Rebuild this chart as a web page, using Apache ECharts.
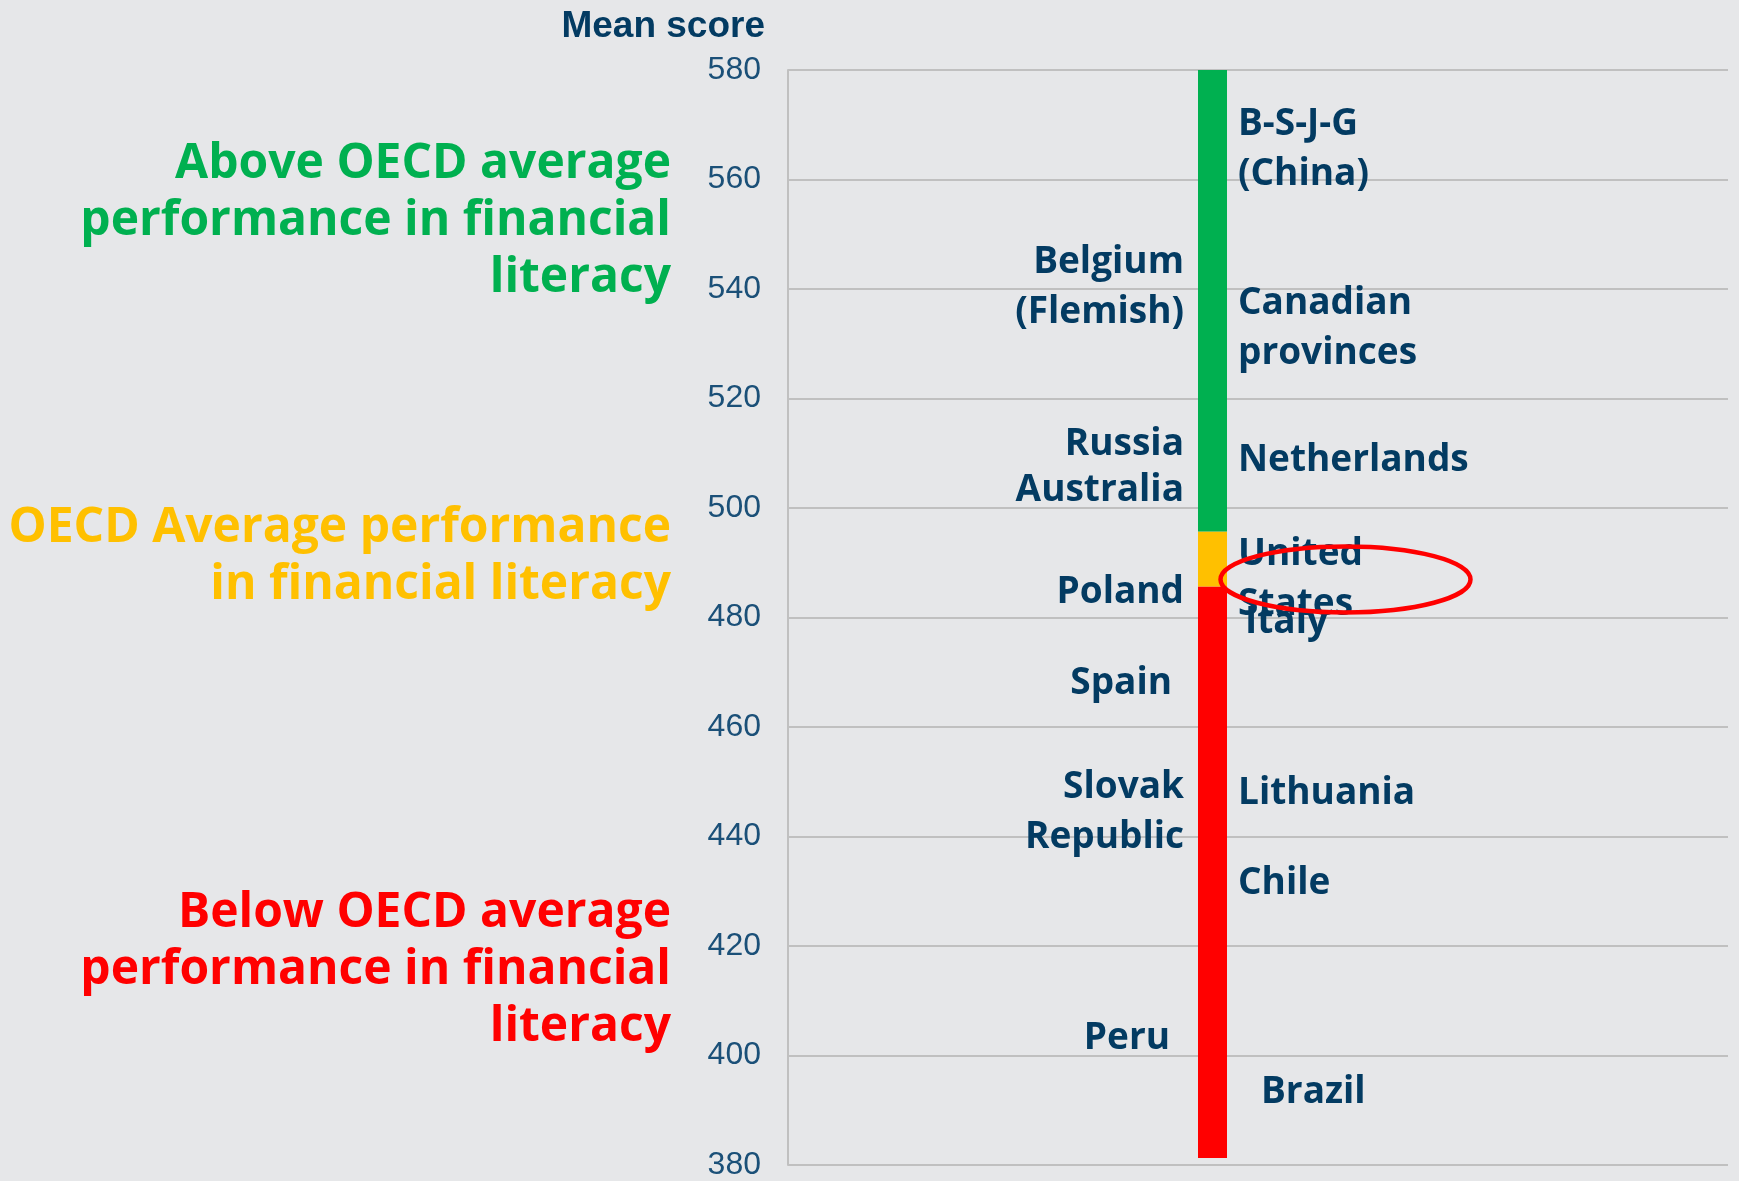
<!DOCTYPE html>
<html>
<head>
<meta charset="utf-8">
<script src="https://cdn.jsdelivr.net/npm/echarts@6/dist/echarts.min.js"></script>
<style>
  html, body { margin: 0; padding: 0; background: #e6e7e9; }
  #main { width: 1739px; height: 1181px; }
</style>
</head>
<body>
<div id="main"></div>
<script>
// score scale
const yMin = 380;
const yMax = 580;
const yStep = 20;

// colour bands of the bar (score edges)
const bandFloor = 382;
const averageLow = 486;
const averageHigh = 496;
const bandTop = 580;

// countries and the score their label sits at
const countries = ['B-S-J-G\n(China)', 'Belgium\n(Flemish)', 'Canadian\nprovinces', 'Russia', 'Australia',
  'Netherlands', 'United\nStates', 'Poland', 'Italy', 'Spain', 'Slovak\nRepublic', 'Lithuania',
  'Chile', 'Peru', 'Brazil'];
const scores = [565.6, 540.5, 532.9, 511.9, 503.4, 509, 487.3, 485, 479.5, 468.4, 444.9, 448.4, 432, 403.7, 394];
// which side of the bar, and gap from bar centre (px)
const sides = ['right', 'left', 'right', 'left', 'left', 'right', 'right', 'left', 'right', 'left', 'left', 'right', 'right', 'left', 'right'];
const gaps = [25, 28, 25, 28, 28, 25, 25, 28, 32, 40, 28, 25, 25, 42, 48];

const navy = '#033b62';
const green = '#00b050';
const yellow = '#ffc000';
const red = '#ff0000';

const chart = echarts.init(document.getElementById('main'));

const labelSeries = countries.map((name, i) => ({
  type: 'scatter',
  xAxisIndex: 1,
  yAxisIndex: 1,
  symbolSize: 1,
  itemStyle: { color: 'rgba(0,0,0,0)', opacity: 1 },
  silent: true,
  z: 5,
  data: [[0, scores[i]]],
  label: {
    show: true,
    formatter: name,
    position: sides[i],
    distance: gaps[i],
    color: navy,
    fontFamily: 'Open Sans',
    fontWeight: 'bold',
    fontSize: 37,
    lineHeight: 50
  }
}));

function noteText(id, text, color, y) {
  return {
    type: 'text', id: id, x: 671, y: y, z: 5,
    style: {
      text: text, align: 'right', verticalAlign: 'top', fill: color,
      fontFamily: 'Open Sans', fontWeight: 'bold', fontSize: 48, lineHeight: 57
    }
  };
}

const option = {
  backgroundColor: '#e6e7e9',
  animation: false,
  title: {
    text: 'Mean score',
    right: 974,
    top: 8,
    padding: 0,
    textStyle: { fontFamily: 'Liberation Sans', fontWeight: 'bold', fontSize: 37, color: navy }
  },
  grid: [
    { left: 788, top: 70, right: 11, bottom: 12 },
    { left: 1198, top: 70, width: 29, bottom: 12 }
  ],
  xAxis: [
    { type: 'value', gridIndex: 0, min: 0, max: 1, show: false },
    { type: 'category', gridIndex: 1, data: ['score'], show: false }
  ],
  yAxis: [
    {
      type: 'value', gridIndex: 0, min: yMin, max: yMax, interval: yStep,
      axisLine: { show: true, lineStyle: { color: '#c0c0c0', width: 2 } },
      axisTick: { show: false },
      splitLine: { show: true, lineStyle: { color: '#c0c0c0', width: 2 } },
      axisLabel: { fontFamily: 'Liberation Sans', fontSize: 32, color: '#1b5078', margin: 27 }
    },
    { type: 'value', gridIndex: 1, min: yMin, max: yMax, show: false }
  ],
  series: [
    { type: 'bar', xAxisIndex: 1, yAxisIndex: 1, stack: 'band', barWidth: '100%', silent: true,
      itemStyle: { color: 'rgba(0,0,0,0)' }, data: [bandFloor] },
    { type: 'bar', xAxisIndex: 1, yAxisIndex: 1, stack: 'band', barWidth: '100%', silent: true,
      itemStyle: { color: red }, data: [averageLow - bandFloor] },
    { type: 'bar', xAxisIndex: 1, yAxisIndex: 1, stack: 'band', barWidth: '100%', silent: true,
      itemStyle: { color: yellow }, data: [averageHigh - averageLow] },
    { type: 'bar', xAxisIndex: 1, yAxisIndex: 1, stack: 'band', barWidth: '100%', silent: true,
      itemStyle: { color: green }, data: [bandTop - averageHigh] }
  ].concat(labelSeries),
  graphic: [
    noteText('above', 'Above OECD average\nperformance in financial\nliteracy', green, 136),
    noteText('avg', 'OECD Average performance\nin financial literacy', yellow, 500),
    noteText('below', 'Below OECD average\nperformance in financial\nliteracy', red, 885)
  ]
};

chart.setOption(option);

// red ring around the United States label
const usIdx = countries.indexOf('United\nStates');
const usPt = chart.convertToPixel({ xAxisIndex: 1, yAxisIndex: 1 }, [0, scores[usIdx]]);
chart.setOption({
  graphic: [
    {
      type: 'ellipse', id: 'ring', z: 10,
      shape: { cx: usPt[0] + 133, cy: usPt[1] + 0, rx: 125, ry: 33 },
      style: { fill: 'none', stroke: red, lineWidth: 4.5 }
    }
  ]
});
</script>
</body>
</html>
